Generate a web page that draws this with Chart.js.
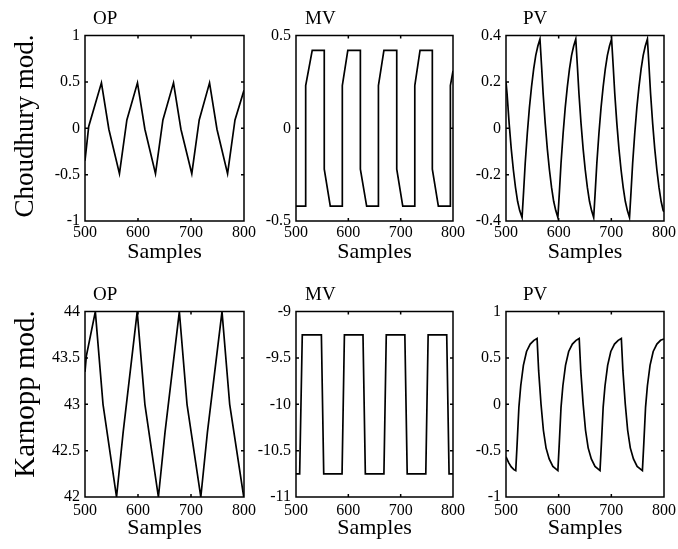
<!DOCTYPE html>
<html>
<head>
<meta charset="utf-8">
<script src="https://cdn.jsdelivr.net/npm/chart.js@4.4.0/dist/chart.umd.min.js"></script>
<style>
  body { margin: 0; background: #fff; width: 678px; height: 549px; position: relative; overflow: hidden; }
  canvas { position: absolute; }
  .txt { position: absolute; font-family: "Liberation Serif", "Times New Roman", serif; color: #000; white-space: nowrap; line-height: 1; }
  .rot { transform: translate(-50%, -50%) rotate(-90deg); }
</style>
</head>
<body>
<script>
// --- data ---
const panelTitles = ['OP', 'MV', 'PV'];
const rowLabels = ['Choudhury mod.', 'Karnopp mod.'];
const xTickVals = [500, 600, 700, 800];

const yTicksChOP = [-1, -0.5, 0, 0.5, 1];
const yTicksChMV = [-0.5, 0, 0.5];
const yTicksChPV = [-0.4, -0.2, 0, 0.2, 0.4];
const yTicksKaOP = [42, 42.5, 43, 43.5, 44];
const yTicksKaMV = [-11, -10.5, -10, -9.5, -9];
const yTicksKaPV = [-1, -0.5, 0, 0.5, 1];

// Choudhury model
const chOP = [[500,-0.35],[507,0.02],[531,0.49],[545,-0.01],[565,-0.49],[579,0.09],[599,0.49],[613,-0.01],
  [633,-0.49],[647,0.09],[667,0.49],[681,-0.01],[701.5,-0.49],[715.5,0.09],[735,0.49],[749,-0.01],
  [769,-0.49],[783,0.09],[800,0.41]];

const chMV = [[500,-0.42],[518.5,-0.42],[518.5,0.23],[531,0.42],[554,0.42],[554,-0.22],[565.5,-0.42],
  [588.5,-0.42],[588.5,0.23],[599,0.42],[623,0.42],[623,-0.22],[635,-0.42],
  [657.5,-0.42],[657.5,0.23],[668,0.42],[692.5,0.42],[692.5,-0.22],[704,-0.42],
  [727,-0.42],[727,0.23],[737,0.42],[760.5,0.42],[760.5,-0.22],[772,-0.42],
  [795,-0.42],[795,0.23],[800,0.31]];

const chPV = [[500,0.2],[502,0.15],[506,0.02],[510,-0.09],[514,-0.18],[518,-0.255],[522,-0.315],[526,-0.355],[530.5,-0.385],
  [533.5,-0.27],[536.5,-0.15],[540.5,-0.02],[544.5,0.09],[548.5,0.18],[552.5,0.255],[556.5,0.315],[560.5,0.355],[564.5,0.385],
  [567.5,0.27],[570.5,0.15],[574.5,0.02],[578.5,-0.09],[582.5,-0.18],[586.5,-0.255],[590.5,-0.315],[594.5,-0.355],[598.5,-0.385],
  [601.5,-0.27],[604.5,-0.15],[608.5,-0.02],[612.5,0.09],[616.5,0.18],[620.5,0.255],[624.5,0.315],[628.5,0.355],[632.5,0.385],
  [635.5,0.27],[638.5,0.15],[642.5,0.02],[646.5,-0.09],[650.5,-0.18],[654.5,-0.255],[658.5,-0.315],[662.5,-0.355],[666.5,-0.385],
  [669.5,-0.27],[672.5,-0.15],[676.5,-0.02],[680.5,0.09],[684.5,0.18],[688.5,0.255],[692.5,0.315],[696.5,0.355],[700.5,0.385],
  [703.5,0.27],[706.5,0.15],[710.5,0.02],[714.5,-0.09],[718.5,-0.18],[722.5,-0.255],[726.5,-0.315],[730.5,-0.355],[734.5,-0.385],
  [737.5,-0.27],[740.5,-0.15],[744.5,-0.02],[748.5,0.09],[752.5,0.18],[756.5,0.255],[760.5,0.315],[764.5,0.355],[768.5,0.385],
  [771.5,0.27],[774.5,0.15],[778.5,0.02],[782.5,-0.09],[786.5,-0.18],[790.5,-0.255],[794.5,-0.315],[798.5,-0.355],[800,-0.36]];

// Karnopp model
const kaOP = [[500,43.35],[502.5,43.52],[519.5,44],[534,43.0],[559.5,42],[572,42.7],[598.5,44],[613,43.0],
  [638.5,42],[651,42.7],[678,44],[692.5,43.0],[718.5,42],[731,42.7],[758.5,44],[773,43.0],[799.5,42],[800,42]];

const kaMV = [[500,-10.75],[507,-10.75],[512,-9.25],[548.5,-9.25],[553,-10.75],[588,-10.75],[592.5,-9.25],
  [628,-9.25],[632.5,-10.75],[668,-10.75],[672.5,-9.25],[708,-9.25],[712.5,-10.75],[748,-10.75],
  [752.5,-9.25],[788,-9.25],[792.5,-10.75],[800,-10.75]];

const kaPV = [[500,-0.566],[505,-0.63],[510,-0.675],[515,-0.705],[518.5,-0.715],
  [521,-0.44],[524.5,-0.03],[528,0.2],[533,0.42],[539,0.57],[546,0.65],[553,0.69],[559,0.71],
  [562,0.36],[566.5,0.0],[571,-0.28],[576,-0.47],[582,-0.59],[589,-0.67],[598.5,-0.715],
  [601,-0.44],[604.5,-0.03],[608,0.2],[613,0.42],[619,0.57],[626,0.65],[633,0.69],[639,0.71],
  [642,0.36],[646.5,0.0],[651,-0.28],[656,-0.47],[662,-0.59],[669,-0.67],[678.5,-0.715],
  [681,-0.44],[684.5,-0.03],[688,0.2],[693,0.42],[699,0.57],[706,0.65],[713,0.69],[719,0.71],
  [722,0.36],[726.5,0.0],[731,-0.28],[736,-0.47],[742,-0.59],[749,-0.67],[759,-0.715],
  [761.5,-0.44],[765,-0.03],[768.5,0.2],[773.5,0.42],[779.5,0.57],[786.5,0.65],[793.5,0.69],[800,0.705]];

// --- layout ---
Chart.defaults.font.family = '"Liberation Serif", "Times New Roman", serif';
Chart.defaults.color = '#000';

const cols = [{ L: 85, W: 159, tx: 93 }, { L: 296, W: 157, tx: 305 }, { L: 506, W: 158, tx: 523 }];
const rows = [
  { T: 33, H: 188, tickPad: 2, xh: 42, labY: 126, labSize: 27 },
  { T: 309, H: 188, tickPad: 4, xh: 42, labY: 394, labSize: 29 }
];
const YW = 70, PT = 12, PR = 16;

// MATLAB-like box with inward ticks on all four sides
const boxTicks = {
  id: 'boxTicks',
  afterDatasetsDraw(chart) {
    const { ctx, chartArea: a, scales: { x, y } } = chart;
    ctx.save();
    ctx.strokeStyle = '#000';
    ctx.lineWidth = 1.5;
    ctx.beginPath();
    ctx.rect(a.left, a.top, a.right - a.left, a.bottom - a.top);
    x.ticks.forEach(t => {
      const p = x.getPixelForValue(t.value);
      ctx.moveTo(p, a.top); ctx.lineTo(p, a.top + 3);
      ctx.moveTo(p, a.bottom); ctx.lineTo(p, a.bottom - 3);
    });
    y.ticks.forEach(t => {
      const p = y.getPixelForValue(t.value);
      ctx.moveTo(a.left, p); ctx.lineTo(a.left + 3, p);
      ctx.moveTo(a.right, p); ctx.lineTo(a.right - 3, p);
    });
    ctx.stroke();
    ctx.restore();
  }
};

function addText(str, left, top, size, cls) {
  const d = document.createElement('div');
  d.className = 'txt' + (cls ? ' ' + cls : '');
  d.textContent = str;
  d.style.left = left + 'px';
  d.style.top = top + 'px';
  d.style.fontSize = size + 'px';
  document.body.appendChild(d);
}

function panel(r, c, series, yTicks) {
  const row = rows[r], col = cols[c];
  const cv = document.createElement('canvas');
  cv.width = YW + col.W + PR;
  cv.height = PT + row.H + row.xh;
  cv.style.left = (col.L - YW) + 'px';
  cv.style.top = (row.T - PT) + 'px';
  document.body.appendChild(cv);

  new Chart(cv, {
    type: 'line',
    data: {
      datasets: [{
        data: series.map(p => ({ x: p[0], y: p[1] })),
        borderColor: '#000',
        borderWidth: 1.7,
        pointRadius: 0,
        tension: 0,
        fill: false
      }]
    },
    options: {
      responsive: false,
      animation: false,
      events: [],
      layout: { padding: { top: PT, right: PR, left: 0, bottom: 0 } },
      plugins: { legend: { display: false }, tooltip: { enabled: false } },
      scales: {
        x: {
          type: 'linear',
          min: xTickVals[0],
          max: xTickVals[xTickVals.length - 1],
          afterBuildTicks: s => { s.ticks = xTickVals.map(v => ({ value: v })); },
          afterFit: s => { s.height = row.xh; },
          grid: { display: false, drawTicks: false },
          border: { display: false },
          ticks: { autoSkip: false, maxRotation: 0, padding: row.tickPad, font: { size: 16 }, callback: v => String(v) },
          title: { display: true, text: 'Samples', font: { size: 22, lineHeight: 1 }, padding: { top: 0, bottom: 0 } }
        },
        y: {
          type: 'linear',
          min: yTicks[0],
          max: yTicks[yTicks.length - 1],
          afterBuildTicks: s => { s.ticks = yTicks.map(v => ({ value: v })); },
          afterFit: s => { s.width = YW; },
          grid: { display: false, drawTicks: false },
          border: { display: false },
          ticks: { autoSkip: false, padding: 5, font: { size: 16 }, callback: v => String(v) }
        }
      }
    },
    plugins: [boxTicks]
  });

  addText(panelTitles[c], col.tx, row.T - 25.4, 19);
}

panel(0, 0, chOP, yTicksChOP);
panel(0, 1, chMV, yTicksChMV);
panel(0, 2, chPV, yTicksChPV);
panel(1, 0, kaOP, yTicksKaOP);
panel(1, 1, kaMV, yTicksKaMV);
panel(1, 2, kaPV, yTicksKaPV);

rows.forEach((row, i) => addText(rowLabels[i], 23.5, row.labY, row.labSize, 'rot'));
</script>
</body>
</html>
